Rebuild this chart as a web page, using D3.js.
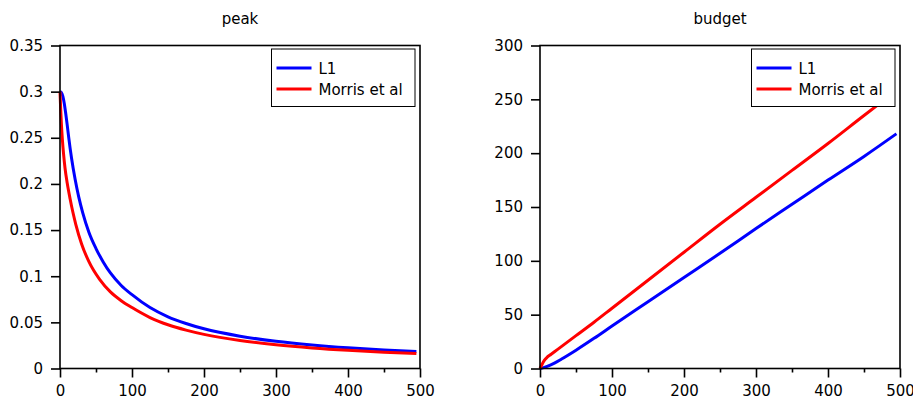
<!DOCTYPE html>
<html>
<head>
<meta charset="utf-8">
<script src="https://cdn.jsdelivr.net/npm/d3@7"></script>
<style>
  body { margin: 0; background: #fff; }
  svg { font-family: "DejaVu Sans", sans-serif; }
</style>
</head>
<body>
<div id="vis"></div>
<script>
// data

// peak panel
let peakL1X = [0, 2, 4, 6, 8, 10, 12, 16, 21, 26, 31.5, 40, 50, 60, 70, 85, 100, 125, 150, 175, 200, 250, 300, 350, 400, 450, 495];
let peakL1Y = [0.300, 0.299, 0.295, 0.287, 0.276, 0.264, 0.251, 0.228, 0.205, 0.186, 0.169, 0.148, 0.130, 0.1155, 0.1035, 0.090, 0.080, 0.066, 0.056, 0.0488, 0.043, 0.035, 0.0295, 0.0255, 0.0224, 0.020, 0.0183];
let peakMorrisX = [0, 1, 2, 3.2, 5, 7, 10, 14, 18, 22, 30, 40, 55, 70, 85, 100, 125, 150, 175, 200, 250, 300, 350, 400, 450, 495];
let peakMorrisY = [0.300, 0.280, 0.264, 0.249, 0.232, 0.217, 0.201, 0.184, 0.169, 0.156, 0.135, 0.116, 0.0965, 0.083, 0.0735, 0.066, 0.0552, 0.0474, 0.0416, 0.037, 0.0303, 0.0257, 0.0223, 0.0197, 0.0177, 0.0163];

// budget panel
let budgetL1X = [0, 5, 10, 20, 30, 50, 75, 100, 150, 200, 250, 300, 350, 400, 450, 495];
let budgetL1Y = [0, 0.8, 2, 5, 8.8, 17, 28, 39.5, 62, 84.5, 107, 130, 152.5, 175, 197, 218];
let budgetMorrisX = [0, 3, 6, 10, 15, 25, 50, 75, 100, 150, 200, 250, 300, 350, 400, 450, 490];
let budgetMorrisY = [0, 4, 7.5, 10.5, 13, 18, 30.5, 43, 56, 82, 108, 134, 159, 184, 209, 235, 255.5];

let xMajorTicks = [0, 100, 200, 300, 400, 500];
let xMinorTicks = [50, 150, 250, 350, 450];
let peakTicks = [0, 0.05, 0.1, 0.15, 0.2, 0.25, 0.3, 0.35];
let budgetTicks = [0, 50, 100, 150, 200, 250, 300];

let seriesNames = ["L1", "Morris et al"];
let seriesColors = ["#0000ff", "#ff0000"];

let W = 913, H = 400;
let plotTop = 45.5, plotBottom = 368.5;

let svg = d3.select('#vis')
  .append('svg')
  .attr('width', W)
  .attr('height', H);

function panel(opts) {
  let x = d3.scaleLinear().domain([0, 500]).range([opts.left, opts.right]);
  let y = d3.scaleLinear().domain(opts.yDomain).range([plotBottom, plotTop]);
  let g = svg.append("g");

  // title
  g.append("text")
    .attr("x", (opts.left + opts.right) / 2)
    .attr("y", 24)
    .attr("text-anchor", "middle")
    .style("font-size", "15px")
    .text(opts.title);

  // lines
  let line = d3.line()
    .x(d => x(d[0]))
    .y(d => y(d[1]))
    .curve(d3.curveMonotoneX);
  opts.series.forEach(function(s, i) {
    g.append("path")
      .datum(d3.zip(s.x, s.y))
      .attr("d", line)
      .attr("fill", "none")
      .attr("stroke", seriesColors[i])
      .attr("stroke-width", 3);
  });

  // axes
  let xa = g.append("g")
    .attr("transform", "translate(0," + plotBottom + ")")
    .call(d3.axisBottom(x).tickValues(xMajorTicks).tickSize(9).tickPadding(8).tickFormat(d3.format("d")));
  let xm = g.append("g")
    .attr("transform", "translate(0," + plotBottom + ")")
    .call(d3.axisBottom(x).tickValues(xMinorTicks).tickSize(4).tickFormat(""));
  let ya = g.append("g")
    .attr("transform", "translate(" + opts.left + ",0)")
    .call(d3.axisLeft(y).tickValues(opts.yTicks).tickSize(9).tickPadding(8).tickFormat(opts.yFormat));
  [xa, xm, ya].forEach(function(a) {
    a.select(".domain").remove();
    a.selectAll("line").attr("stroke", "#000").attr("stroke-width", 1.6);
    a.selectAll("text").style("font-size", "15px").style("font-family", "DejaVu Sans").attr("fill", "#000");
  });

  // frame
  g.append("rect")
    .attr("x", opts.left)
    .attr("y", plotTop)
    .attr("width", opts.right - opts.left)
    .attr("height", plotBottom - plotTop)
    .attr("fill", "none")
    .attr("stroke", "#000")
    .attr("stroke-width", 1.6);

  // legend
  let lx = opts.legendX, ly = 49;
  let lg = g.append("g").attr("transform", "translate(" + lx + "," + ly + ")");
  lg.append("rect")
    .attr("width", 143.5)
    .attr("height", 57.5)
    .attr("fill", "#fff")
    .attr("stroke", "#000")
    .attr("stroke-width", 1);
  seriesNames.forEach(function(name, i) {
    let yy = 19 + i * 21;
    lg.append("line")
      .attr("x1", 5).attr("x2", 40)
      .attr("y1", yy).attr("y2", yy)
      .attr("stroke", seriesColors[i])
      .attr("stroke-width", 3);
    lg.append("text")
      .attr("x", 47)
      .attr("y", yy + 5.5)
      .style("font-size", "15px")
      .text(name);
  });
}

panel({
  title: "peak",
  left: 60, right: 420,
  yDomain: [0, 0.35],
  yTicks: peakTicks,
  yFormat: d => d === 0 ? "0" : String(+d.toFixed(2)),
  legendX: 271.5,
  series: [{x: peakL1X, y: peakL1Y}, {x: peakMorrisX, y: peakMorrisY}]
});

panel({
  title: "budget",
  left: 540, right: 900,
  yDomain: [0, 300],
  yTicks: budgetTicks,
  yFormat: d3.format("d"),
  legendX: 751.5,
  series: [{x: budgetL1X, y: budgetL1Y}, {x: budgetMorrisX, y: budgetMorrisY}]
});
</script>
</body>
</html>
